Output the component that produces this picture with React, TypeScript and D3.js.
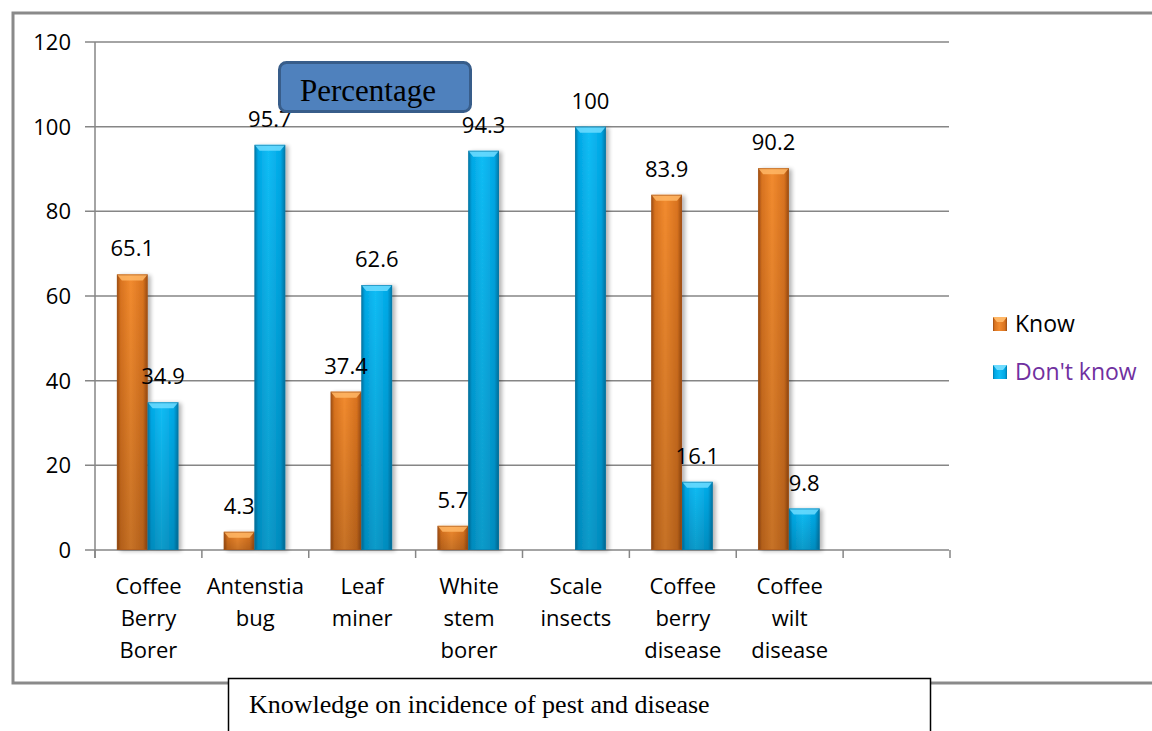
import React from "react";
import * as d3 from "d3";

const categories: string[][] = [
  ["Coffee", "Berry", "Borer"],
  ["Antenstia", "bug"],
  ["Leaf", "miner"],
  ["White", "stem", "borer"],
  ["Scale", "insects"],
  ["Coffee", "berry", "disease"],
  ["Coffee", "wilt", "disease"],
];
const knowValues: (number | null)[] = [65.1, 4.3, 37.4, 5.7, null, 83.9, 90.2];
const dontKnowValues: (number | null)[] = [34.9, 95.7, 62.6, 94.3, 100, 16.1, 9.8];
const seriesNames = ["Know", "Don't know"];
const yTicks = [0, 20, 40, 60, 80, 100, 120];
const chartTitle = "Percentage";
const axisTitle = "Knowledge on incidence of pest and disease";

const W = 1152;
const H = 731;
const SANS = "'Open Sans', sans-serif";
const SERIF = "'Liberation Serif', 'Times New Roman', serif";

export default function App() {
  const slots = [...categories.map((_, i) => String(i)), "spare"];
  const x = d3.scaleBand<string>().domain(slots).range([95, 950]).paddingInner(0).paddingOuter(0);
  const bw = x.bandwidth();
  const inner = d3.scaleBand<string>().domain(seriesNames).range([bw * 0.205, bw * 0.78]).padding(0);
  const y = d3.scaleLinear().domain([0, 120]).range([550, 42]);

  const seriesData = [knowValues, dontKnowValues];
  const colors = [
    { id: "or", edge: "#9a4b12", mid: "#f28b2f", mid2: "#d9731f", top: "#ffb766", stroke: "#a8561a" },
    { id: "bl", edge: "#0078a8", mid: "#12bdf5", mid2: "#00a8e6", top: "#6fdcff", stroke: "#0a7aa6" },
  ];

  return (
    <svg width={W} height={H} style={{ display: "block", position: "absolute", left: 0, top: 0 }}>
      <defs>
        {colors.map((c) => (
          <linearGradient key={c.id} id={`h-${c.id}`} x1="0" x2="1" y1="0" y2="0">
            <stop offset="0" stopColor={c.edge} />
            <stop offset="0.12" stopColor={c.mid2} />
            <stop offset="0.45" stopColor={c.mid} />
            <stop offset="0.85" stopColor={c.mid2} />
            <stop offset="1" stopColor={c.edge} />
          </linearGradient>
        ))}
        <linearGradient id="vshade" x1="0" x2="0" y1="0" y2="1">
          <stop offset="0" stopColor="#000" stopOpacity="0" />
          <stop offset="1" stopColor="#000" stopOpacity="0.18" />
        </linearGradient>
        <filter id="shadow" x="-20%" y="-20%" width="160%" height="140%">
          <feGaussianBlur in="SourceAlpha" stdDeviation="2" />
          <feOffset dx="3" dy="1" result="b" />
          <feComponentTransfer>
            <feFuncA type="linear" slope="0.3" />
          </feComponentTransfer>
          <feMerge>
            <feMergeNode />
            <feMergeNode in="SourceGraphic" />
          </feMerge>
        </filter>
      </defs>
      <rect x={0} y={0} width={W} height={H} fill="#fff" />
      {/* outer frame */}
      <rect x={13} y={13} width={W + 20} height={670} fill="#fff" stroke="#8a8a8a" strokeWidth={3} />

      {/* gridlines */}
      {yTicks.map((t) => (
        <line key={t} x1={85} x2={949} y1={y(t)} y2={y(t)} stroke="#868686" strokeWidth={1.5} />
      ))}
      {/* y axis */}
      <line x1={95} x2={95} y1={y(120)} y2={558} stroke="#868686" strokeWidth={1.5} />
      {yTicks.map((t) => (
        <text key={t} x={71} y={y(t) + 8} textAnchor="end" fontFamily={SANS} fontSize={22} fill="#000">
          {t}
        </text>
      ))}
      {/* x ticks */}
      {[...slots.map((s) => x(s)!), 950].map((px, i) => (
        <line key={i} x1={px} x2={px} y1={550} y2={558} stroke="#868686" strokeWidth={1.5} />
      ))}

      {/* bars */}
      {categories.map((_, ci) =>
        seriesData.map((vals, si) => {
          const v = vals[ci];
          if (v == null) return null;
          const c = colors[si];
          const bx = x(String(ci))! + inner(seriesNames[si])!;
          const w = inner.bandwidth();
          const top = y(v);
          const h = y(0) - top;
          const bev = Math.min(6, h / 2);
          return (
            <g key={`${ci}-${si}`}>
              <g filter="url(#shadow)">
                <rect x={bx} y={top} width={w} height={h} fill={`url(#h-${c.id})`} />
              </g>
              <rect x={bx} y={top} width={w} height={h} fill="url(#vshade)" />
              <polygon
                points={`${bx},${top} ${bx + w},${top} ${bx + w - 5},${top + bev} ${bx + 5},${top + bev}`}
                fill={c.top}
                opacity={0.85}
              />
              <rect x={bx + 0.5} y={top + 0.5} width={w - 1} height={h - 1} fill="none" stroke={c.stroke} strokeWidth={1} opacity={0.6} />
            </g>
          );
        })
      )}
      {/* data labels */}
      {categories.map((_, ci) =>
        seriesData.map((vals, si) => {
          const v = vals[ci];
          if (v == null) return null;
          const cx = x(String(ci))! + inner(seriesNames[si])! + inner.bandwidth() / 2;
          return (
            <text key={`l-${ci}-${si}`} x={cx} y={y(v) - 18} textAnchor="middle" fontFamily={SANS} fontSize={22} fill="#000">
              {v}
            </text>
          );
        })
      )}

      {/* category labels */}
      {categories.map((lines, ci) => (
        <text key={`c-${ci}`} textAnchor="middle" fontFamily={SANS} fontSize={22} fill="#000">
          {lines.map((ln, li) => (
            <tspan key={li} x={x(String(ci))! + bw / 2} y={594 + li * 32}>
              {ln}
            </tspan>
          ))}
        </text>
      ))}

      {/* legend */}
      {seriesNames.map((name, i) => {
        const c = colors[i];
        const ly = 324 + i * 48;
        return (
          <g key={name}>
            <rect x={993} y={ly - 7} width={14} height={14} fill={`url(#h-${c.id})`} />
            <polygon points={`${993},${ly - 7} ${1007},${ly - 7} ${1003},${ly - 2} ${997},${ly - 2}`} fill={c.top} />
            <text x={1015} y={ly + 8} fontFamily={SANS} fontSize={23} fill={i === 0 ? "#000" : "#7030a0"}>
              {name}
            </text>
          </g>
        );
      })}

      {/* Percentage box */}
      <rect x={279.5} y={62.5} width={191} height={49} rx={7} fill="#4f81bd" stroke="#385d8a" strokeWidth={3} />
      <text x={300} y={101} fontFamily={SERIF} fontSize={31} fill="#000">
        {chartTitle}
      </text>

      {/* axis title box */}
      <rect x={228.5} y={678.5} width={702} height={70} fill="#fff" stroke="#000" strokeWidth={1.5} />
      <text x={249} y={713} fontFamily={SERIF} fontSize={26} fill="#000">
        {axisTitle}
      </text>
    </svg>
  );
}
